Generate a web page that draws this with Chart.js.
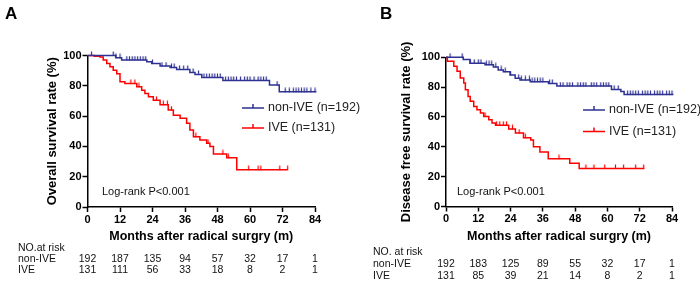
<!DOCTYPE html>
<html>
<head>
<meta charset="utf-8">
<script src="https://cdn.jsdelivr.net/npm/chart.js@4.4.1/dist/chart.umd.min.js"></script>
<style>
  body { margin: 0; background: #fff; }
  #wrap { position: relative; width: 700px; height: 287px; }
  .panel { position: absolute; top: 0; height: 287px; }
  #boxA { left: 0; width: 380px; z-index: 2; }
  #boxB { left: 350px; width: 350px; }
</style>
</head>
<body>
<div id="wrap">
  <div class="panel" id="boxB"><canvas id="chartB" width="350" height="287"></canvas></div>
  <div class="panel" id="boxA"><canvas id="chartA" width="380" height="287"></canvas></div>
</div>
<script>
// axis ticks
const months = [0, 12, 24, 36, 48, 60, 72, 84];
const percentTicks = [0, 20, 40, 60, 80, 100];
const groups = ["non-IVE", "IVE"];
const legendLabels = ["non-IVE (n=192)", "IVE (n=131)"];

// A - overall survival (time in months, survival in %)
const osNonIveTime = [0, 10.5, 12.6, 21.9, 23.7, 26.8, 30.5, 32.9, 37.8, 39.7, 42.2, 50, 67.2, 70.8, 84.5];
const osNonIveSurv = [100, 98.5, 97, 95.8, 94.7, 93, 92, 90.8, 88.8, 87.5, 85.5, 83.5, 80.5, 76, 76];
const osNonIveCensor = [1.5, 9.5, 10.5, 12, 14.5, 15.5, 16.5, 17.5, 18.5, 19.5, 20.5, 21.5, 24, 27.5, 29, 31, 32, 34, 35.5, 37, 39, 41, 43, 44, 45, 46, 47, 48, 49, 51, 52, 53, 54, 55, 56.5, 58, 59, 60, 61.5, 63, 64, 65, 66, 70, 73, 74.5, 76, 77, 78, 79, 80, 81, 82.5, 84];
const osIveTime = [0, 2.5, 4.6, 5.8, 7.1, 8.3, 9.5, 10.8, 12, 13.8, 18.2, 20, 21.2, 22.5, 24.3, 26.8, 29.8, 31.7, 34.2, 36.6, 37.8, 39.1, 41.5, 44, 45.2, 46.5, 51.4, 55.1, 73.9];
const osIveSurv = [100, 99.5, 99, 97, 94.7, 92.5, 90.3, 88, 82.6, 81.5, 79.3, 77.1, 75, 72.7, 70.5, 67.5, 64, 60.6, 58.5, 55.2, 50.8, 46.3, 44.2, 42, 40, 35, 32.5, 24.6, 24.6];
const osIveCensor = [16, 17.5, 19, 25.5, 28, 29.5, 31, 40, 44.5, 50, 52, 59.5, 63, 64, 71, 73.9];
const osRiskNonIve = [192, 187, 135, 94, 57, 32, 17, 1];
const osRiskIve = [131, 111, 56, 33, 18, 8, 2, 1];

// B - disease free survival
const dfsNonIveTime = [0, 6.4, 8.9, 14.5, 17.6, 19.4, 21.3, 23.8, 25.7, 27.5, 31.3, 38.1, 41.2, 61.5, 65, 66.2, 84.5];
const dfsNonIveSurv = [100, 98.5, 96, 95, 93.5, 91.5, 90.3, 88.1, 86, 84.8, 83.6, 82.5, 80.7, 78.5, 77, 75, 75];
const dfsNonIveCensor = [1.5, 6, 9, 10.5, 12, 13, 15, 16, 17, 18.5, 20.5, 22, 24, 27, 28, 29.5, 31, 32, 33, 34, 35, 36, 38.5, 39.5, 42.5, 43.5, 45, 46, 47, 49, 50, 51, 52, 54, 55, 56, 57.5, 58.5, 59.5, 60.5, 62.5, 64, 67.5, 68.5, 69.5, 70.5, 71.5, 73, 74, 75, 76, 77.5, 78.5, 79.5, 80.5, 82, 83, 84];
const dfsIveTime = [0, 0.5, 2.9, 4.1, 5.3, 6.6, 7.2, 8.2, 9, 10.3, 11.5, 12.8, 14, 15.9, 17.1, 18.4, 23.3, 25.8, 28.8, 31.5, 32.5, 34.9, 38, 46, 49.5, 73.7];
const dfsIveSurv = [100, 97.3, 94, 90.6, 86.1, 82.7, 78.3, 73.8, 70.5, 67.1, 64.9, 62.6, 60.4, 58.2, 55.9, 54.5, 52, 49.2, 46, 44.5, 40, 36.5, 32, 29, 25.5, 25.5];
const dfsIveCensor = [14.5, 18.8, 20, 21.3, 22.5, 24.7, 27.2, 29.5, 42, 52, 55, 59, 63, 66, 70.5, 73.5];
const dfsRiskNonIve = [192, 183, 125, 89, 55, 32, 17, 1];
const dfsRiskIve = [131, 85, 39, 21, 14, 8, 2, 1];

const BLUE = "#2e3192";
const RED = "#ff0000";
const FONT = '"Liberation Sans", Arial, sans-serif';
Chart.defaults.font.family = FONT;

// valeur de la courbe au temps t (fonction en escalier)
function survAt(times, surv, t) {
    let v = surv[0];
    for (let i = 0; i < times.length; i++) {
        if (times[i] <= t) v = surv[i];
    }
    return v;
}

// petit trait vertical pour les patients censurés
function censorMark(color) {
    const c = document.createElement("canvas");
    c.width = 3;
    c.height = 9;
    const g = c.getContext("2d");
    g.strokeStyle = color;
    g.lineWidth = 1.2;
    g.beginPath();
    g.moveTo(1.5, 0.5);
    g.lineTo(1.5, 5);
    g.stroke();
    return c;
}

function curveData(times, surv) {
    return times.map((t, i) => ({ x: t, y: surv[i] }));
}

function censorData(censor, times, surv) {
    return censor.map(t => ({ x: t, y: survAt(times, surv, t) }));
}

const kmExtras = {
    id: "kmExtras",
    afterDraw(chart, args, o) {
        const ctx = chart.ctx;
        const xs = chart.scales.x;
        ctx.save();

        // lettre du panneau
        ctx.fillStyle = "#000";
        ctx.font = "bold 17px " + FONT;
        ctx.textAlign = "left";
        ctx.textBaseline = "alphabetic";
        ctx.fillText(o.letter, o.letterX, 19);

        // légende
        o.legend.forEach(item => {
            ctx.strokeStyle = item.color;
            ctx.lineWidth = 1.5;
            ctx.beginPath();
            ctx.moveTo(o.legendX, item.y);
            ctx.lineTo(o.legendX + 22, item.y);
            ctx.moveTo(o.legendX + 11, item.y);
            ctx.lineTo(o.legendX + 11, item.y - 4);
            ctx.stroke();
            ctx.fillStyle = "#222";
            ctx.font = "12.5px " + FONT;
            ctx.textBaseline = "middle";
            ctx.fillText(item.label, o.legendX + 26, item.y);
        });

        // test du log-rank
        ctx.fillStyle = "#111";
        ctx.font = "11px " + FONT;
        ctx.fillText("Log-rank P<0.001", o.logRankX, 192);

        // nombre de sujets à risque
        ctx.font = "10.5px " + FONT;
        ctx.textAlign = "left";
        ctx.fillText(o.riskTitle, o.tableX, o.rowY[0]);
        ctx.fillText(groups[0], o.tableX, o.rowY[1]);
        ctx.fillText(groups[1], o.tableX, o.rowY[2]);
        ctx.textAlign = "center";
        months.forEach((m, i) => {
            const px = xs.getPixelForValue(m);
            ctx.fillText(String(o.risk[0][i]), px, o.rowY[1]);
            ctx.fillText(String(o.risk[1][i]), px, o.rowY[2]);
        });
        ctx.restore();
    }
};

function makeChart(id, p) {
    const ctx = document.getElementById(id).getContext("2d");
    new Chart(ctx, {
        type: "line",
        data: {
            datasets: [
                {
                    data: curveData(p.nonTime, p.nonSurv),
                    borderColor: BLUE, borderWidth: 1.5, stepped: "before",
                    pointRadius: 0, fill: false, clip: false
                },
                {
                    data: curveData(p.iveTime, p.iveSurv),
                    borderColor: RED, borderWidth: 1.5, stepped: "before",
                    pointRadius: 0, fill: false, clip: false
                },
                {
                    data: censorData(p.nonCensor, p.nonTime, p.nonSurv),
                    showLine: false, pointStyle: censorMark(BLUE), pointRadius: 3, clip: false
                },
                {
                    data: censorData(p.iveCensor, p.iveTime, p.iveSurv),
                    showLine: false, pointStyle: censorMark(RED), pointRadius: 3, clip: false
                }
            ]
        },
        options: {
            responsive: false,
            animation: false,
            events: [],
            layout: { padding: p.padding },
            plugins: {
                legend: { display: false },
                tooltip: { enabled: false },
                kmExtras: p.extras
            },
            scales: {
                x: {
                    type: "linear", min: 0, max: 84,
                    border: { color: "#000", width: 1.5 },
                    grid: { drawOnChartArea: false, tickLength: 5, tickColor: "#000", tickWidth: 1.5 },
                    ticks: { color: "#000", padding: 1, maxRotation: 0, font: { size: 11, weight: "bold" } },
                    afterBuildTicks: s => { s.ticks = months.map(v => ({ value: v })); },
                    title: {
                        display: true, text: "Months after radical surgry (m)", color: "#000",
                        font: { size: 12.5, weight: "bold" }, padding: { top: 0, bottom: 0.5 }
                    },
                    afterFit: s => { s.height = 38; }
                },
                y: {
                    type: "linear", min: 0, max: 100,
                    border: { color: "#000", width: 1.5 },
                    grid: { drawOnChartArea: false, tickLength: 5, tickColor: "#000", tickWidth: 1.5 },
                    ticks: { color: "#000", padding: 1, font: { size: 11, weight: "bold" } },
                    afterBuildTicks: s => { s.ticks = percentTicks.map(v => ({ value: v })); },
                    title: {
                        display: true, text: p.yTitle, color: "#000",
                        font: { size: 13, weight: "bold" }, padding: { top: 5, bottom: 0 }
                    },
                    afterFit: s => { s.width = p.yWidth; }
                }
            }
        },
        plugins: [kmExtras]
    });
}

makeChart("chartA", {
    nonTime: osNonIveTime, nonSurv: osNonIveSurv, nonCensor: osNonIveCensor,
    iveTime: osIveTime, iveSurv: osIveSurv, iveCensor: osIveCensor,
    yTitle: "Overall survival rate (%)",
    yWidth: 47.5,
    padding: { left: 40, right: 65, top: 55.5, bottom: 42 },
    extras: {
        letter: "A", letterX: 5,
        legendX: 242,
        legend: [
            { label: legendLabels[0], color: BLUE, y: 108 },
            { label: legendLabels[1], color: RED, y: 128 }
        ],
        logRankX: 102,
        tableX: 18, riskTitle: "NO.at risk", rowY: [248, 259, 270],
        risk: [osRiskNonIve, osRiskIve]
    }
});

makeChart("chartB", {
    nonTime: dfsNonIveTime, nonSurv: dfsNonIveSurv, nonCensor: dfsNonIveCensor,
    iveTime: dfsIveTime, iveSurv: dfsIveSurv, iveCensor: dfsIveCensor,
    yTitle: "Disease free survival rate (%)",
    yWidth: 52,
    padding: { left: 44, right: 28, top: 57.3, bottom: 42.5 },
    extras: {
        letter: "B", letterX: 30,
        legendX: 233,
        legend: [
            { label: legendLabels[0], color: BLUE, y: 110 },
            { label: legendLabels[1], color: RED, y: 131.5 }
        ],
        logRankX: 107,
        tableX: 23, riskTitle: "NO. at risk", rowY: [252, 264, 276],
        risk: [dfsRiskNonIve, dfsRiskIve]
    }
});
</script>
</body>
</html>
